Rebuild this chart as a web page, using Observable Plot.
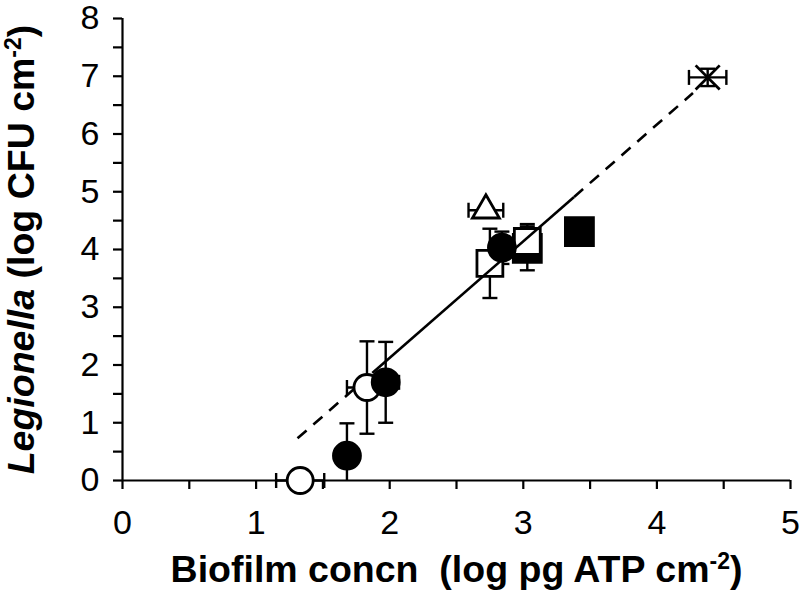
<!DOCTYPE html>
<html>
<head>
<meta charset="utf-8">
<script src="https://cdn.jsdelivr.net/npm/d3@7"></script>
<script src="https://cdn.jsdelivr.net/npm/@observablehq/plot@0.6"></script>
<style>
  html, body { margin: 0; padding: 0; background: white; }
</style>
</head>
<body>
<div id="chart"></div>
<script>
// ---- data ----
const pointKind = ["open circle", "filled circle", "open circle", "filled circle", "open triangle",
                   "open square", "filled circle", "filled square", "open square", "filled square", "cross"];
const pointX    = [1.33, 1.68, 1.83, 1.97, 2.72, 2.75, 2.84, 3.03, 3.03, 3.42, 4.38];
const pointY    = [0.00, 0.43, 1.61, 1.70, 4.68, 3.76, 4.03, 4.02, 4.14, 4.31, 6.98];
const pointXErr = [0.18, 0.00, 0.15, 0.10, 0.13, 0.00, 0.00, 0.00, 0.00, 0.00, 0.14];
const pointYErr = [0.00, 0.56, 0.80, 0.70, 0.00, 0.60, 0.28, 0.38, 0.30, 0.00, 0.15];

const fitX = [1.31, 1.87, 3.38, 4.27];
const fitY = [0.73, 1.86, 4.91, 6.71];
const fitSegmentStyle = ["dashed", "solid", "dashed"];

const xTicks = [0, 1, 2, 3, 4, 5];
const yTicks = [0, 1, 2, 3, 4, 5, 6, 7, 8];

// ---- build tables ----
const points = pointKind.map((k, i) => ({kind: k, x: pointX[i], y: pointY[i], xe: pointXErr[i], ye: pointYErr[i]}));
const segments = d3.pairs(fitX.map((x, i) => ({x, y: fitY[i]}))).map(([a, b], i) => ({x1: a.x, y1: a.y, x2: b.x, y2: b.y, style: fitSegmentStyle[i]}));

const symbolOf = {"open circle": "circle", "filled circle": "circle", "open square": "square", "filled square": "square", "open triangle": "triangle", "cross": "times"};
const fillOf = {"open circle": "white", "filled circle": "black", "open square": "white", "filled square": "black", "open triangle": "white", "cross": "none"};
const rOf = {"open circle": 13, "filled circle": 13.5, "open square": 14.6, "filled square": 15.8, "open triangle": 10, "cross": 11};

const hbar = {draw(ctx, size) { const w = Math.sqrt(size / Math.PI); ctx.moveTo(-w, 0); ctx.lineTo(w, 0); }};
const vbar = {draw(ctx, size) { const w = Math.sqrt(size / Math.PI); ctx.moveTo(0, -w); ctx.lineTo(0, w); }};

const yErrPts = points.filter(d => d.ye > 0);
const xErrPts = points.filter(d => d.xe > 0);
const capsY = yErrPts.flatMap(d => [{x: d.x, y: d.y + d.ye}, {x: d.x, y: d.y - d.ye}]);
const capsX = xErrPts.flatMap(d => [{x: d.x + d.xe, y: d.y}, {x: d.x - d.xe, y: d.y}]);

const isSquare = d => d.kind.endsWith("square");
const font = "'Liberation Sans', Arial, sans-serif";
const dotOpts = {x: "x", y: "y", symbol: d => symbolOf[d.kind], fill: d => fillOf[d.kind], r: d => rOf[d.kind], stroke: "black", strokeWidth: 2.8, sort: null};

const chart = Plot.plot({
  width: 800,
  height: 593,
  marginLeft: 122,
  marginRight: 10,
  marginTop: 18,
  marginBottom: 113,
  x: {domain: [0, 5]},
  y: {domain: [0, 8]},
  r: {type: "identity"},
  style: {fontFamily: font, background: "white", color: "black"},
  marks: [
    // axes
    Plot.axisX(d3.range(0, 5.01, 0.5), {tickSize: 9, strokeWidth: 2.2, text: null, label: null}),
    Plot.axisX(xTicks, {tickSize: 0, tickPadding: 29, fontSize: 34, tickFormat: "d", label: null}),
    Plot.axisY(d3.range(0, 8.01, 0.5), {tickSize: 9, strokeWidth: 2.2, text: null, label: null}),
    Plot.axisY(yTicks, {tickSize: 0, tickPadding: 23, fontSize: 34, tickFormat: "d", label: null}),
    Plot.ruleY([0], {strokeWidth: 2.2}),
    Plot.ruleX([0], {strokeWidth: 2.2}),
    // error bars
    Plot.link(yErrPts, {x1: "x", x2: "x", y1: d => d.y - d.ye, y2: d => d.y + d.ye, strokeWidth: 2.4, stroke: "black", clip: true}),
    Plot.link(xErrPts, {y1: "y", y2: "y", x1: d => d.x - d.xe, x2: d => d.x + d.xe, strokeWidth: 2.4, stroke: "black"}),
    Plot.dot(capsY, {x: "x", y: "y", symbol: hbar, r: 7.5, stroke: "black", strokeWidth: 2.4, fill: "none", clip: true}),
    Plot.dot(capsX, {x: "x", y: "y", symbol: vbar, r: 7.5, stroke: "black", strokeWidth: 2.4, fill: "none"}),
    // square markers (under the fit line)
    Plot.dot(points.filter(isSquare), dotOpts),
    // fit line
    Plot.link(segments.filter(s => s.style === "dashed"), {x1: "x1", y1: "y1", x2: "x2", y2: "y2", strokeWidth: 2.6, strokeDasharray: "12,9", stroke: "black"}),
    Plot.link(segments.filter(s => s.style === "solid"), {x1: "x1", y1: "y1", x2: "x2", y2: "y2", strokeWidth: 2.6, stroke: "black"}),
    // other markers (over the fit line)
    Plot.dot(points.filter(d => !isSquare(d)), dotOpts),
    // titles
    Plot.text(["Biofilm concn  (log pg ATP cm-2)"], {frameAnchor: "bottom", dy: 89, fontSize: 37.5, fontWeight: "bold", lineAnchor: "middle", className: "xtitle"}),
    Plot.text(["Legionella (log CFU cm-2)"], {frameAnchor: "left", rotate: -90, dx: -101, dy: 0, fontSize: 37.5, fontWeight: "bold", textAnchor: "middle", lineAnchor: "middle", className: "ytitle"})
  ]
});

document.getElementById("chart").appendChild(chart);

// rich text for titles (italic genus, superscript exponent)
const sx = d3.select(chart).select(".xtitle text");
sx.text(null);
sx.append("tspan").text("Biofilm concn  (log pg ATP cm");
sx.append("tspan").attr("baseline-shift", "super").attr("font-size", 23).text("-2");
sx.append("tspan").text(")");
const sy = d3.select(chart).select(".ytitle text");
sy.text(null);
sy.append("tspan").attr("font-style", "italic").text("Legionella");
sy.append("tspan").text(" (log CFU cm");
sy.append("tspan").attr("baseline-shift", "super").attr("font-size", 23).text("-2");
sy.append("tspan").text(")");
</script>
</body>
</html>
